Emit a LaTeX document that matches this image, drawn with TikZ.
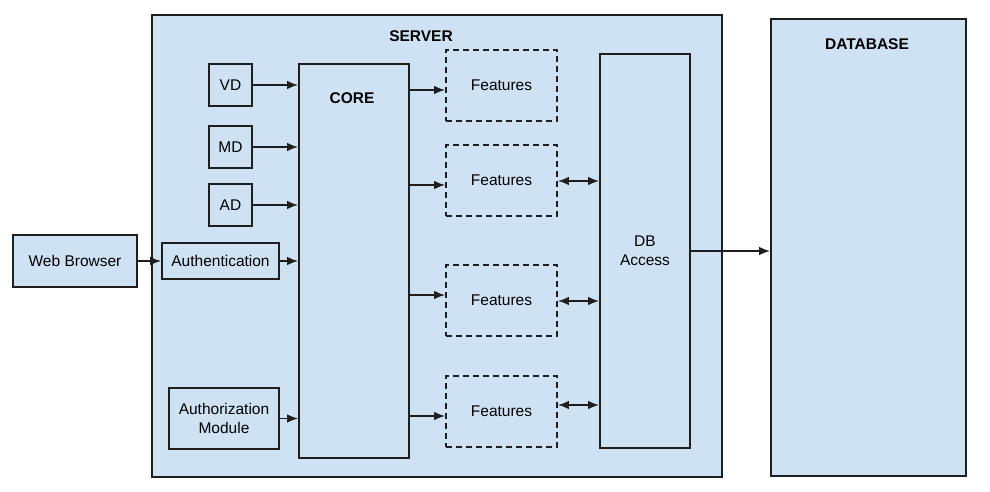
\documentclass[tikz,border=0pt]{standalone}
\usepackage{fontspec}
\setmainfont{Liberation Sans}
\usetikzlibrary{arrows.meta}
\definecolor{boxfill}{HTML}{CFE2F3}
\definecolor{boxline}{HTML}{1E1E1E}

\begin{document}
\begin{tikzpicture}[x = 1pt, y = -1pt,
  font = \fontsize{15.5}{19}\selectfont,
  blk/.style = {draw = boxline, line width = 1.6pt, fill = boxfill, inner sep = 0pt, align = center},
  feat/.style = {blk, dash pattern = on 6pt off 4pt, minimum width = 111, minimum height = 71},
  sq/.style = {blk, minimum width = 43, minimum height = 42},
  ttl/.style = {font = \fontsize{15.5}{19}\selectfont\bfseries},
  arr/.style = {line width = 1.8pt, draw = boxline},
  > = {Latex[length = 11pt, width = 8.5pt]}]
\useasboundingbox (0,0) rectangle (990,492);
% containers
\node[blk, minimum width = 570, minimum height = 462] (SRV) at (437,246) {};
\node[blk, minimum width = 195, minimum height = 457] (DATA) at (868.5,247.5) {};
\node[ttl] (SRVT) at (421,36) {SERVER};
\node[ttl] (DATAT) at (867,44) {DATABASE};
% server parts
\node[blk, minimum width = 124, minimum height = 52] (WB) at (75,261) {Web Browser};
\node[blk, minimum width = 117, minimum height = 36] (AUTH) at (220.5,261) {Authentication};
\node[blk, minimum width = 110, minimum height = 61] (AUTHZ) at (224,418.5) {Authorization\\Module};
\node[sq] (VD) at (230.5,85) {VD};
\node[sq] (MD) at (230.5,147) {MD};
\node[sq] (AD) at (230.5,205) {AD};
\node[blk, minimum width = 110, minimum height = 394] (CORE) at (354,261) {};
\node[ttl] (CORET) at (352,98) {CORE};
\node[feat] (F1) at (501.5,85.5) {Features};
\node[feat] (F2) at (501.5,180.5) {Features};
\node[feat] (F3) at (501.5,300.5) {Features};
\node[feat] (F4) at (501.5,411.5) {Features};
\node[blk, minimum width = 90, minimum height = 394] (DB) at (645,251) {DB\\Access};
% connectors
\draw[arr, ->] (WB) -- (AUTH);
\foreach \i in {VD, MD, AD, AUTH, AUTHZ}{
\draw[arr, ->] (\i) -- (\i -| CORE.west);
}
\foreach \i/\s in {F1/-4.5, F2/-4.5, F3/5.5, F4/-4.5}{
\draw[arr, ->] ([yshift = \s pt]CORE.east |- \i) -- ([yshift = \s pt]\i.west);
}
\foreach \i/\s in {F2/-0.5, F3/-0.5, F4/6.5}{
\draw[arr, <->] ([yshift = \s pt]\i.east) -- ([yshift = \s pt]\i.east -| DB.west);
}
\draw[arr, ->] (DB) -- (DB -| DATA.west);
\end{tikzpicture}
\end{document}
